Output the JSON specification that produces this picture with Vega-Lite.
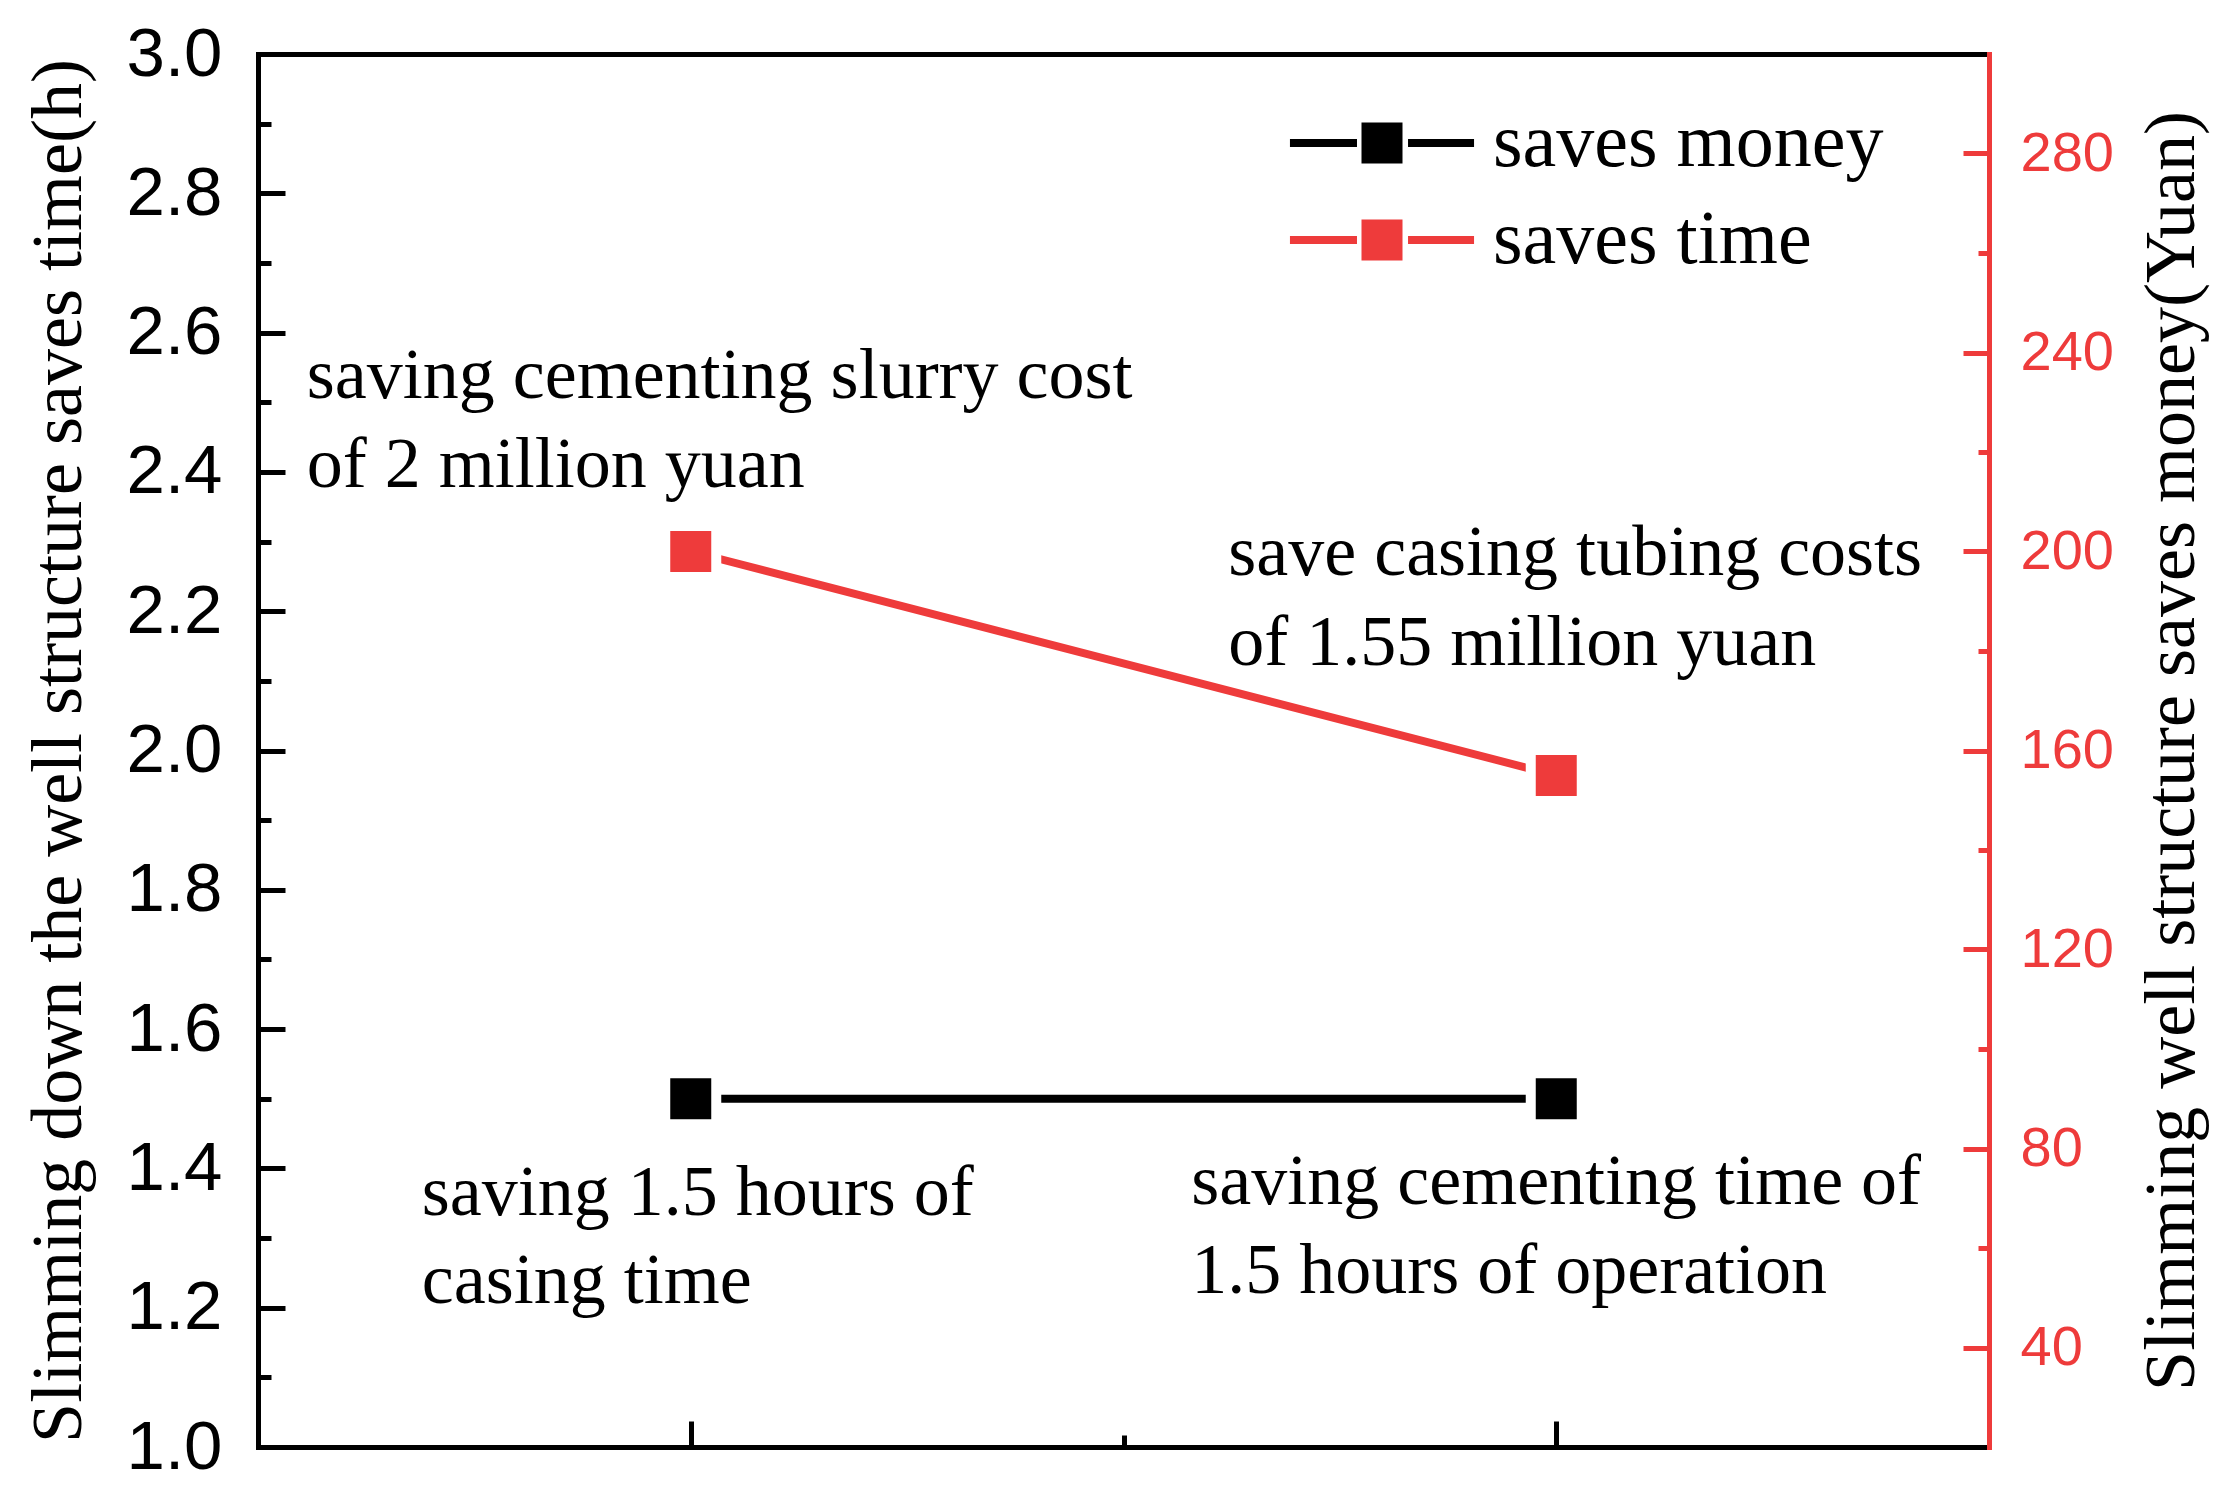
{
  "$schema": "https://vega.github.io/schema/vega-lite/v6.json",
  "width": 1731,
  "height": 1393,
  "autosize": {"type": "none"},
  "padding": {"left": 258, "top": 54, "right": 249, "bottom": 64},
  "background": "white",
  "datasets": {
    "pts": [
      {"pos": 1, "series": "saves money", "value": 1.5, "note": "saving 1.5 hours of\ncasing time"},
      {"pos": 2, "series": "saves money", "value": 1.5, "note": "saving cementing time of\n1.5 hours of operation"},
      {"pos": 1, "series": "saves time", "value": 200, "note": "saving cementing slurry cost\nof 2 million yuan"},
      {"pos": 2, "series": "saves time", "value": 155, "note": "save casing tubing costs\nof 1.55 million yuan"}
    ]
  },
  "data": {"name": "pts"},
  "resolve": {"scale": {"x": "independent", "y": "independent"}},
  "layer": [
    {
      "transform": [{"filter": "datum.series == 'saves money'"}],
      "mark": {"type": "line", "color": "#000000", "strokeWidth": 8, "strokeCap": "round"},
      "encoding": {
        "x": {"field": "pos", "type": "quantitative", "scale": {"domain": [0.5, 2.5]},
          "axis": {"orient": "bottom", "values": [1, 2], "labels": false, "tickSize": -26, "tickWidth": 5, "tickColor": "#000000", "domainWidth": 5, "domainColor": "#000000", "domainCap": "square", "title": null, "grid": false}},
        "y": {"field": "value", "type": "quantitative", "scale": {"domain": [1, 3]},
          "axis": {"orient": "left", "values": [1, 1.2, 1.4, 1.6, 1.8, 2, 2.2, 2.4, 2.6, 2.8, 3], "format": ".1f", "tickSize": -27, "tickWidth": 5, "tickColor": "#000000", "domainWidth": 5, "domainColor": "#000000", "domainCap": "square", "labelFont": "Liberation Sans", "labelFontSize": 69, "labelColor": "#000000", "labelPadding": 63, "labelFlush": false, "labelOverlap": false, "title": "Slimming down the well structure saves time(h)", "titleFont": "Liberation Serif", "titleFontSize": 72, "titleFontWeight": "normal", "titleColor": "#000000", "titleAngle": 270, "titleX": -178, "titleY": 696.5, "titleAlign": "center", "titleBaseline": "alphabetic", "titleLimit": 0, "grid": false}}
      }
    },
    {
      "transform": [{"filter": "datum.series == 'saves money'"}],
      "mark": {"type": "point", "shape": "square", "filled": true, "size": 2601, "stroke": "white", "strokeWidth": 10, "opacity": 1},
      "encoding": {
        "x": {"field": "pos", "type": "quantitative", "scale": {"domain": [0.5, 2.5]}, "axis": null},
        "y": {"field": "value", "type": "quantitative", "scale": {"domain": [1, 3]}, "axis": null},
        "color": {"field": "series", "type": "nominal", "scale": {"domain": ["saves money", "saves time"], "range": ["#000000", "#EE3B3B"]},
          "legend": {"orient": "none", "legendX": 1086, "legendY": 51, "title": null, "padding": 0, "symbolType": "M-1,-1H1V1H-1Z M-4.49,-0.195H-1.22V0.195H-4.49Z M1.27,-0.195H4.49V0.195H1.27Z", "symbolSize": 1681, "symbolStrokeWidth": 0, "symbolOpacity": 1, "labelFont": "Liberation Serif", "labelFontSize": 76, "labelColor": "#000000", "labelOffset": 73, "labelLimit": 1000, "rowPadding": 21,
            "encode": {"symbols": {"update": {"stroke": {"value": "transparent"}, "strokeWidth": {"value": 0}}}}}}
      }
    },
    {
      "transform": [{"filter": "datum.series == 'saves time'"}],
      "mark": {"type": "line", "color": "#EE3B3B", "strokeWidth": 8, "strokeCap": "round"},
      "encoding": {
        "x": {"field": "pos", "type": "quantitative", "scale": {"domain": [0.5, 2.5]}, "axis": null},
        "y": {"field": "value", "type": "quantitative", "scale": {"domain": [20, 300]},
          "axis": {"orient": "right", "values": [40, 80, 120, 160, 200, 240, 280], "tickSize": -26, "tickWidth": 5, "tickColor": "#EE3B3B", "domainWidth": 5, "domainColor": "#EE3B3B", "domainCap": "square", "labelFont": "Liberation Sans", "labelFontSize": 56, "labelColor": "#EE3B3B", "labelPadding": 57, "labelFlush": false, "labelOverlap": false, "title": "Slimming well structure saves money(Yuan)", "titleFont": "Liberation Serif", "titleFontSize": 72, "titleFontWeight": "normal", "titleColor": "#000000", "titleAngle": 270, "titleX": 204, "titleY": 696.5, "titleAlign": "center", "titleBaseline": "alphabetic", "titleLimit": 0, "grid": false}}
      }
    },
    {
      "transform": [{"filter": "datum.series == 'saves time'"}],
      "mark": {"type": "point", "shape": "square", "filled": true, "size": 2601, "stroke": "white", "strokeWidth": 10, "opacity": 1},
      "encoding": {
        "x": {"field": "pos", "type": "quantitative", "scale": {"domain": [0.5, 2.5]}, "axis": null},
        "y": {"field": "value", "type": "quantitative", "scale": {"domain": [20, 300]}, "axis": null},
        "color": {"field": "series", "type": "nominal", "scale": {"domain": ["saves money", "saves time"], "range": ["#000000", "#EE3B3B"]}}
      }
    },
    {
      "transform": [{"filter": "datum.series == 'saves money'"}],
      "mark": {"type": "point", "opacity": 0},
      "encoding": {
        "x": {"field": "pos", "type": "quantitative", "scale": {"domain": [0.5, 2.5]},
          "axis": {"orient": "bottom", "values": [1.5], "labels": false, "domain": false, "tickSize": -12, "tickWidth": 5, "tickColor": "#000000", "title": null, "grid": false}},
        "y": {"field": "value", "type": "quantitative", "scale": {"domain": [1, 3]},
          "axis": {"orient": "left", "values": [1.1, 1.3, 1.5, 1.7, 1.9, 2.1, 2.3, 2.5, 2.7, 2.9], "labels": false, "domain": false, "tickSize": -13, "tickWidth": 5, "tickColor": "#000000", "title": null, "grid": false}}
      }
    },
    {
      "transform": [{"filter": "datum.series == 'saves time'"}],
      "mark": {"type": "point", "opacity": 0},
      "encoding": {
        "x": {"field": "pos", "type": "quantitative", "scale": {"domain": [0.5, 2.5]},
          "axis": {"orient": "top", "values": [], "labels": false, "ticks": false, "domain": true, "domainWidth": 5, "domainColor": "#000000", "domainCap": "square", "title": null, "grid": false}},
        "y": {"field": "value", "type": "quantitative", "scale": {"domain": [20, 300]},
          "axis": {"orient": "right", "values": [60, 100, 140, 180, 220, 260], "labels": false, "domain": false, "tickSize": -11, "tickWidth": 5, "tickColor": "#EE3B3B", "title": null, "grid": false}}
      }
    },
    {
      "transform": [{"filter": "datum.series == 'saves time' && datum.pos == 1"}],
      "mark": {"type": "text", "font": "Liberation Serif", "fontSize": 72, "align": "left", "baseline": "alphabetic", "lineBreak": "\n", "lineHeight": 89, "dx": -384, "dy": -153.5, "color": "#000000"},
      "encoding": {
        "x": {"field": "pos", "type": "quantitative", "scale": {"domain": [0.5, 2.5]}, "axis": null},
        "y": {"field": "value", "type": "quantitative", "scale": {"domain": [20, 300]}, "axis": null},
        "text": {"field": "note"}
      }
    },
    {
      "transform": [{"filter": "datum.series == 'saves time' && datum.pos == 2"}],
      "mark": {"type": "text", "font": "Liberation Serif", "fontSize": 72, "align": "left", "baseline": "alphabetic", "lineBreak": "\n", "lineHeight": 90, "dx": -328, "dy": -200, "color": "#000000"},
      "encoding": {
        "x": {"field": "pos", "type": "quantitative", "scale": {"domain": [0.5, 2.5]}, "axis": null},
        "y": {"field": "value", "type": "quantitative", "scale": {"domain": [20, 300]}, "axis": null},
        "text": {"field": "note"}
      }
    },
    {
      "transform": [{"filter": "datum.series == 'saves money' && datum.pos == 1"}],
      "mark": {"type": "text", "font": "Liberation Serif", "fontSize": 72, "align": "left", "baseline": "alphabetic", "lineBreak": "\n", "lineHeight": 88, "dx": -269, "dy": 116, "color": "#000000"},
      "encoding": {
        "x": {"field": "pos", "type": "quantitative", "scale": {"domain": [0.5, 2.5]}, "axis": null},
        "y": {"field": "value", "type": "quantitative", "scale": {"domain": [1, 3]}, "axis": null},
        "text": {"field": "note"}
      }
    },
    {
      "transform": [{"filter": "datum.series == 'saves money' && datum.pos == 2"}],
      "mark": {"type": "text", "font": "Liberation Serif", "fontSize": 72, "align": "left", "baseline": "alphabetic", "lineBreak": "\n", "lineHeight": 89, "dx": -365, "dy": 105, "color": "#000000"},
      "encoding": {
        "x": {"field": "pos", "type": "quantitative", "scale": {"domain": [0.5, 2.5]}, "axis": null},
        "y": {"field": "value", "type": "quantitative", "scale": {"domain": [1, 3]}, "axis": null},
        "text": {"field": "note"}
      }
    }
  ],
  "config": {
    "view": {"stroke": null},
    "axis": {"grid": false}
  }
}
